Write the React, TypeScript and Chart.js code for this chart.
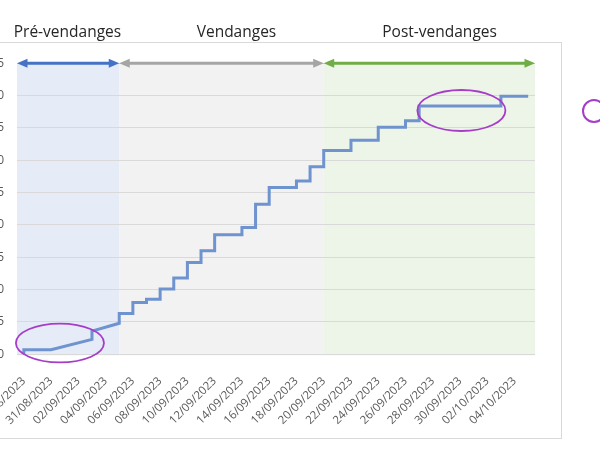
import React, { useEffect, useRef } from "react";
import { Chart, registerables } from "chart.js";

Chart.register(...registerables);

// Every day shown on the date axis
const dates = [
  "29/08/2023", "30/08/2023", "31/08/2023", "01/09/2023", "02/09/2023", "03/09/2023",
  "04/09/2023", "05/09/2023", "06/09/2023", "07/09/2023", "08/09/2023", "09/09/2023",
  "10/09/2023", "11/09/2023", "12/09/2023", "13/09/2023", "14/09/2023", "15/09/2023",
  "16/09/2023", "17/09/2023", "18/09/2023", "19/09/2023", "20/09/2023", "21/09/2023",
  "22/09/2023", "23/09/2023", "24/09/2023", "25/09/2023", "26/09/2023", "27/09/2023",
  "28/09/2023", "29/09/2023", "30/09/2023", "01/10/2023", "02/10/2023", "03/10/2023",
  "04/10/2023", "05/10/2023",
];

// Tick labels on the horizontal axis (every 2 days)
const tickLabels = [
  "29/08/2023", "31/08/2023", "02/09/2023", "04/09/2023", "06/09/2023", "08/09/2023",
  "10/09/2023", "12/09/2023", "14/09/2023", "16/09/2023", "18/09/2023", "20/09/2023",
  "22/09/2023", "24/09/2023", "26/09/2023", "28/09/2023", "30/09/2023", "02/10/2023",
  "04/10/2023",
];

// Cumulative series: date of each record and its value
const seriesDates = [
  "29/08/2023", "29/08/2023", "31/08/2023", "03/09/2023", "03/09/2023", "05/09/2023",
  "05/09/2023", "06/09/2023", "06/09/2023", "07/09/2023", "07/09/2023", "08/09/2023",
  "08/09/2023", "09/09/2023", "09/09/2023", "10/09/2023", "10/09/2023", "11/09/2023",
  "11/09/2023", "12/09/2023", "12/09/2023", "14/09/2023", "14/09/2023", "15/09/2023",
  "15/09/2023", "16/09/2023", "16/09/2023", "18/09/2023", "18/09/2023", "19/09/2023",
  "19/09/2023", "20/09/2023", "20/09/2023", "22/09/2023", "22/09/2023", "24/09/2023",
  "24/09/2023", "26/09/2023", "26/09/2023", "27/09/2023", "27/09/2023", "03/10/2023",
  "03/10/2023", "05/10/2023",
];
const seriesValues = [
  0, 0.7, 0.7, 2.3, 3.6, 4.8,
  6.3, 6.3, 8.0, 8.0, 8.5, 8.5,
  10.1, 10.1, 11.8, 11.8, 14.2, 14.2,
  16.0, 16.0, 18.5, 18.5, 19.6, 19.6,
  23.2, 23.2, 25.8, 25.8, 26.8, 26.8,
  29.0, 29.0, 31.5, 31.5, 33.1, 33.1,
  35.1, 35.1, 36.1, 36.1, 38.4, 38.4,
  39.9, 39.9,
];

// Phases
const phaseNames = ["Pré-vendanges", "Vendanges", "Post-vendanges"];
const phaseStarts = ["29/08/2023", "05/09/2023", "20/09/2023"];
const phaseEnds = ["05/09/2023", "20/09/2023", "05/10/2023"];
const phaseBandColors = ["#E6ECF7", "#F2F2F2", "#EDF4E8"];
const phaseArrowColors = ["#4472C4", "#A5A5A5", "#70AD47"];
const phaseTitleDays = [3.2, 15.6, 30.5];
const phaseLevel = 45;

// Highlight ellipses (centre day, centre value, half-width in days, half-height in values)
const ellipseDays = [2.65, 32.1];
const ellipseValues = [1.75, 37.7];
const ellipseHalfDays = [3.23, 3.23];
const ellipseHalfValues = [3.0, 3.17];

const yTicks = [0, 5, 10, 15, 20, 25, 30, 35, 40, 45];

const dayIndex = (d: string) => dates.indexOf(d);

function drawArrow(ctx: CanvasRenderingContext2D, x1: number, x2: number, y: number, color: string) {
  const head = 10.5;
  const half = 4.5;
  ctx.save();
  ctx.strokeStyle = color;
  ctx.fillStyle = color;
  ctx.lineWidth = 3;
  ctx.beginPath();
  ctx.moveTo(x1 + head - 1, y);
  ctx.lineTo(x2 - head + 1, y);
  ctx.stroke();
  ctx.beginPath();
  ctx.moveTo(x1, y);
  ctx.lineTo(x1 + head, y - half);
  ctx.lineTo(x1 + head, y + half);
  ctx.closePath();
  ctx.fill();
  ctx.beginPath();
  ctx.moveTo(x2, y);
  ctx.lineTo(x2 - head, y - half);
  ctx.lineTo(x2 - head, y + half);
  ctx.closePath();
  ctx.fill();
  ctx.restore();
}

const phaseStartPos = (i: number) => (i === 0 ? dayIndex(phaseStarts[i]) - 0.5 : dayIndex(phaseStarts[i]));
const phaseEndPos = (i: number) =>
  i === phaseEnds.length - 1 ? dayIndex(phaseEnds[i]) + 0.5 : dayIndex(phaseEnds[i]);

const overlayPlugin = {
  id: "overlay",
  beforeDraw(chart: any) {
    const { ctx, scales } = chart;
    const xs = scales.x;
    const ys = scales.y;
    ctx.save();
    const top = ys.getPixelForValue(phaseLevel);
    const bottom = ys.getPixelForValue(0);
    phaseNames.forEach((_, i) => {
      const a = xs.getPixelForValue(phaseStartPos(i));
      const b = xs.getPixelForValue(phaseEndPos(i));
      ctx.fillStyle = phaseBandColors[i];
      ctx.fillRect(a, top, b - a, bottom - top + 1);
    });
    ctx.restore();
  },
  afterDatasetsDraw(chart: any) {
    const { ctx, scales } = chart;
    const xs = scales.x;
    const ys = scales.y;
    const y = ys.getPixelForValue(phaseLevel);
    phaseNames.forEach((_, i) => {
      drawArrow(ctx, xs.getPixelForValue(phaseStartPos(i)), xs.getPixelForValue(phaseEndPos(i)), y, phaseArrowColors[i]);
    });
    // ellipses
    ctx.save();
    ctx.strokeStyle = "#A63DC9";
    ctx.lineWidth = 1.8;
    ellipseDays.forEach((d, i) => {
      const cx = xs.getPixelForValue(d);
      const cy = ys.getPixelForValue(ellipseValues[i]);
      const rx = Math.abs(xs.getPixelForValue(d + ellipseHalfDays[i]) - cx);
      const ry = Math.abs(ys.getPixelForValue(ellipseValues[i] + ellipseHalfValues[i]) - cy);
      ctx.beginPath();
      ctx.ellipse(cx, cy, rx, ry, 0, 0, Math.PI * 2);
      ctx.stroke();
    });
    ctx.restore();
    // titles
    ctx.save();
    ctx.fillStyle = "#262626";
    ctx.font = '15.5px "Open Sans"';
    ctx.textAlign = "center";
    ctx.textBaseline = "middle";
    phaseNames.forEach((n, i) => {
      ctx.fillText(n, xs.getPixelForValue(phaseTitleDays[i]), 33);
    });
    ctx.restore();
  },
};

export default function App() {
  const ref = useRef<HTMLCanvasElement | null>(null);

  useEffect(() => {
    if (!ref.current) return;
    const points = seriesDates.map((d, i) => ({ x: dayIndex(d), y: seriesValues[i] }));
    const chart = new Chart(ref.current, {
      type: "line",
      data: {
        datasets: [
          {
            label: "Cumul",
            data: points,
            borderColor: "#6E93CF",
            borderWidth: 3,
            pointRadius: 0,
            tension: 0,
            fill: false,
          },
        ],
      },
      options: {
        animation: false,
        responsive: false,
        devicePixelRatio: 1,
        layout: { padding: { top: 63.3, left: 0, right: 65, bottom: 0 } },
        plugins: { legend: { display: false }, tooltip: { enabled: false } },
        scales: {
          x: {
            type: "linear",
            min: -0.5,
            max: 37.5,
            afterBuildTicks: (s: any) => {
              s.ticks = tickLabels.map((l) => ({ value: dayIndex(l) }));
            },
            afterFit: (s: any) => {
              s.height = 95.7;
            },
            grid: { display: false },
            border: { display: false },
            ticks: {
              autoSkip: false,
              minRotation: 45,
              maxRotation: 45,
              padding: 12,
              color: "#595959",
              font: { family: "Open Sans", size: 11.5 },
              callback: (v: any) => dates[Math.round(Number(v))] ?? "",
            },
          },
          y: {
            min: 0,
            max: 45,
            afterBuildTicks: (s: any) => {
              s.ticks = yTicks.map((v) => ({ value: v }));
            },
            afterFit: (s: any) => {
              s.width = 57;
            },
            grid: { color: "#D9D9D9", drawTicks: false },
            border: { display: false },
            ticks: {
              padding: 13,
              color: "#595959",
              font: { family: "Open Sans", size: 12 },
            },
          },
        },
      },
      plugins: [overlayPlugin],
    });
    return () => chart.destroy();
  }, []);

  return (
    <div style={{ position: "absolute", left: 0, top: 0, width: 600, height: 450, overflow: "hidden", background: "#fff" }}>
      <canvas ref={ref} width={640} height={450} style={{ position: "absolute", left: -40, top: 0, width: 640, height: 450 }} />
      <div
        style={{
          position: "absolute",
          left: -10,
          top: 42,
          width: 570,
          height: 395,
          border: "1px solid #D9D9D9",
          pointerEvents: "none",
        }}
      />
      <div
        style={{
          position: "absolute",
          left: 582,
          top: 98.5,
          width: 20,
          height: 20,
          borderRadius: "50%",
          border: "2px solid #A63DC9",
          pointerEvents: "none",
        }}
      />
    </div>
  );
}
